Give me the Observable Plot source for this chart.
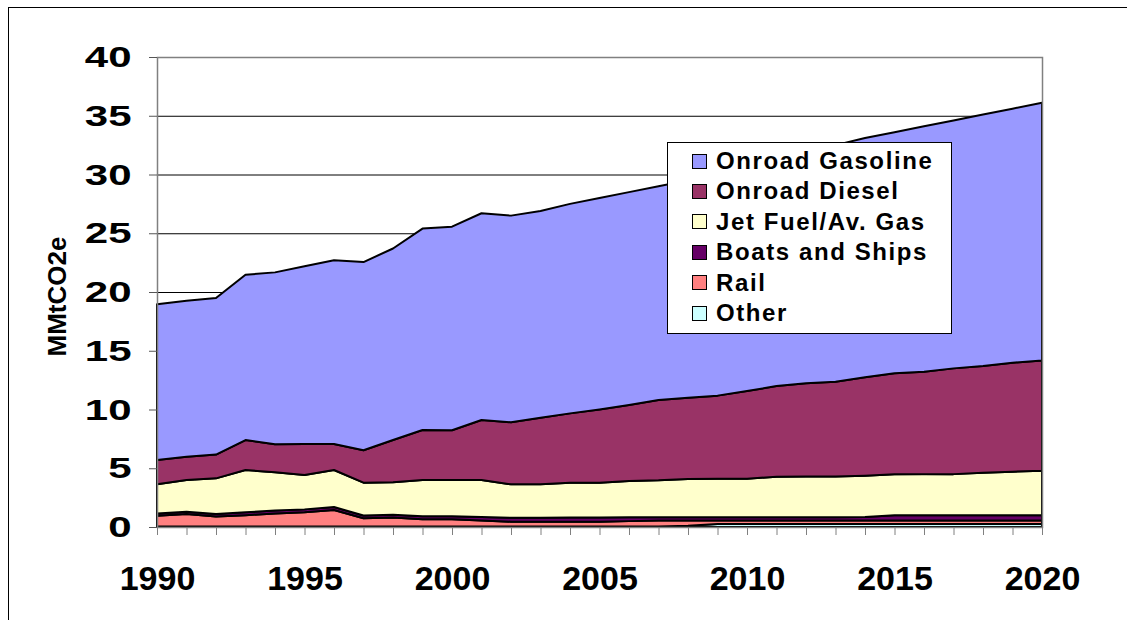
<!DOCTYPE html>
<html>
<head>
<meta charset="utf-8">
<script src="https://cdn.jsdelivr.net/npm/d3@7"></script>
<script src="https://cdn.jsdelivr.net/npm/@observablehq/plot@0.6"></script>
<style>
  html, body { margin: 0; padding: 0; background: #fff; }
  #wrap { position: relative; width: 1127px; height: 620px; overflow: hidden; font-family: "Liberation Sans", Arial, sans-serif; }
  #outer { position: absolute; left: 8px; top: 7px; width: 1130px; height: 630px; border: 1px solid #000; box-sizing: border-box; pointer-events: none; }
  #legend { position: absolute; left: 667px; top: 142px; width: 285px; height: 192px; box-sizing: border-box; border: 1px solid #000; background: #fff; padding-top: 3px; }
  .row { height: 30.4px; line-height: 30.4px; display: flex; align-items: center; font-weight: bold; font-size: 24px; letter-spacing: 1.6px; color: #000; }
  .sw { width: 13px; height: 13px; border: 1px solid #000; margin-left: 24px; margin-right: 9px; flex: none; }
</style>
</head>
<body>
<div id="wrap">
  <div id="chart"></div>
  <div id="legend"></div>
  <div id="outer"></div>
</div>
<script>
const years = [1990,1991,1992,1993,1994,1995,1996,1997,1998,1999,2000,2001,2002,2003,2004,2005,2006,2007,2008,2009,2010,2011,2012,2013,2014,2015,2016,2017,2018,2019,2020];

const seriesNames = ["Other", "Rail", "Boats and Ships", "Jet Fuel/Av. Gas", "Onroad Diesel", "Onroad Gasoline"];
const seriesColors = ["#CCFFFF", "#FF8080", "#660066", "#FFFFCC", "#993366", "#9999FF"];
const legendOrder = ["Onroad Gasoline", "Onroad Diesel", "Jet Fuel/Av. Gas", "Boats and Ships", "Rail", "Other"];

const other    = [0.05,0.05,0.05,0.05,0.05,0.05,0.05,0.05,0.05,0.05,0.05,0.05,0.05,0.05,0.05,0.05,0.05,0.05,0.1,0.25,0.25,0.25,0.25,0.25,0.25,0.25,0.25,0.25,0.25,0.25,0.25];
const rail     = [0.9,1.05,0.85,0.95,1.1,1.2,1.4,0.7,0.75,0.6,0.6,0.5,0.4,0.4,0.4,0.4,0.45,0.5,0.45,0.3,0.3,0.3,0.3,0.3,0.3,0.3,0.3,0.3,0.3,0.3,0.3];
const boats    = [0.2,0.2,0.2,0.25,0.25,0.25,0.25,0.23,0.25,0.27,0.27,0.3,0.33,0.33,0.35,0.35,0.32,0.27,0.27,0.27,0.27,0.27,0.29,0.29,0.31,0.45,0.45,0.45,0.45,0.45,0.45];
const jet      = [2.48,2.7,3.04,3.6,3.25,2.93,3.15,2.79,2.75,3.08,3.08,3.15,2.85,2.85,2.97,2.97,3.09,3.15,3.27,3.29,3.29,3.46,3.46,3.46,3.51,3.48,3.5,3.5,3.62,3.71,3.79];
const diesel   = [2.07,1.98,2.02,2.55,2.39,2.63,2.21,2.76,3.6,4.26,4.23,5.11,5.28,5.67,5.9,6.23,6.47,6.84,6.91,7.07,7.46,7.72,7.93,8.07,8.37,8.6,8.72,9.0,9.08,9.27,9.39];
const gasoline = [13.25,13.28,13.33,14.07,14.63,15.14,15.64,16.02,16.3,17.14,17.33,17.59,17.59,17.6,17.83,18.0,18.12,18.19,18.5,18.92,19.13,19.3,19.67,20.13,20.36,20.52,20.88,21.1,21.4,21.62,21.92];

const yTicks = [0,5,10,15,20,25,30,35,40];
const xLabelTicks = [1990,1995,2000,2005,2010,2015,2020];
const yLabel = "MMtCO2e";

const seriesValues = [other, rail, boats, jet, diesel, gasoline];
const data = [];
seriesNames.forEach((name, si) => {
  years.forEach((yr, i) => data.push({series: name, year: yr, value: seriesValues[si][i]}));
});

const font = "'Liberation Sans', Arial, sans-serif";

const chart = Plot.plot({
  width: 1127,
  height: 620,
  marginLeft: 157,
  marginRight: 85,
  marginTop: 57,
  marginBottom: 93,
  style: {fontFamily: font, fontWeight: "bold", background: "transparent", color: "#000"},
  x: {domain: [1990, 2020], type: "linear"},
  y: {domain: [0, 40]},
  color: {domain: seriesNames, range: seriesColors},
  marks: [
    Plot.gridY(yTicks.filter(d => d > 0 && d < 40), {stroke: "#000", strokeOpacity: 1, strokeWidth: 1}),
    Plot.areaY(data, {x: "year", y: "value", fill: "series", z: "series", order: seriesNames, stroke: "#000", strokeWidth: 2, strokeLinejoin: "round"}),
    Plot.frame({stroke: "#808080", strokeWidth: 1.5}),
    Plot.axisY(yTicks, {anchor: "left", tickSize: 8, tickPadding: 18, fontSize: 30, stroke: "#555", fill: "#000", label: null, tickFormat: d => d}),
    Plot.axisX(years, {anchor: "bottom", tickSize: 8, stroke: "#808080", tickFormat: () => "", label: null}),
    Plot.axisX(xLabelTicks, {anchor: "bottom", tickSize: 0, tickPadding: 38, fontSize: 34, fill: "#000", label: null, tickFormat: d => String(d), style: {letterSpacing: "1px"}}),
    Plot.text([yLabel], {frameAnchor: "left", dx: -100, dy: 4, rotate: -90, textAnchor: "middle", fontSize: 26, fontWeight: "bold", fill: "#000", text: d => d, style: {letterSpacing: "1px"}})
  ]
});
document.getElementById("chart").appendChild(chart);

// widen the y tick labels horizontally, as in the original rendering
d3.select(chart).selectAll('g[aria-label="y-axis tick label"] text').each(function () {
  const t = this.getAttribute("transform") || "";
  this.setAttribute("transform", (t + " scale(1.4,1)").trim());
});

const legend = document.getElementById("legend");
legendOrder.forEach(name => {
  const row = document.createElement("div");
  row.className = "row";
  const sw = document.createElement("span");
  sw.className = "sw";
  sw.style.background = seriesColors[seriesNames.indexOf(name)];
  const tx = document.createElement("span");
  tx.textContent = name;
  row.appendChild(sw);
  row.appendChild(tx);
  legend.appendChild(row);
});
</script>
</body>
</html>
